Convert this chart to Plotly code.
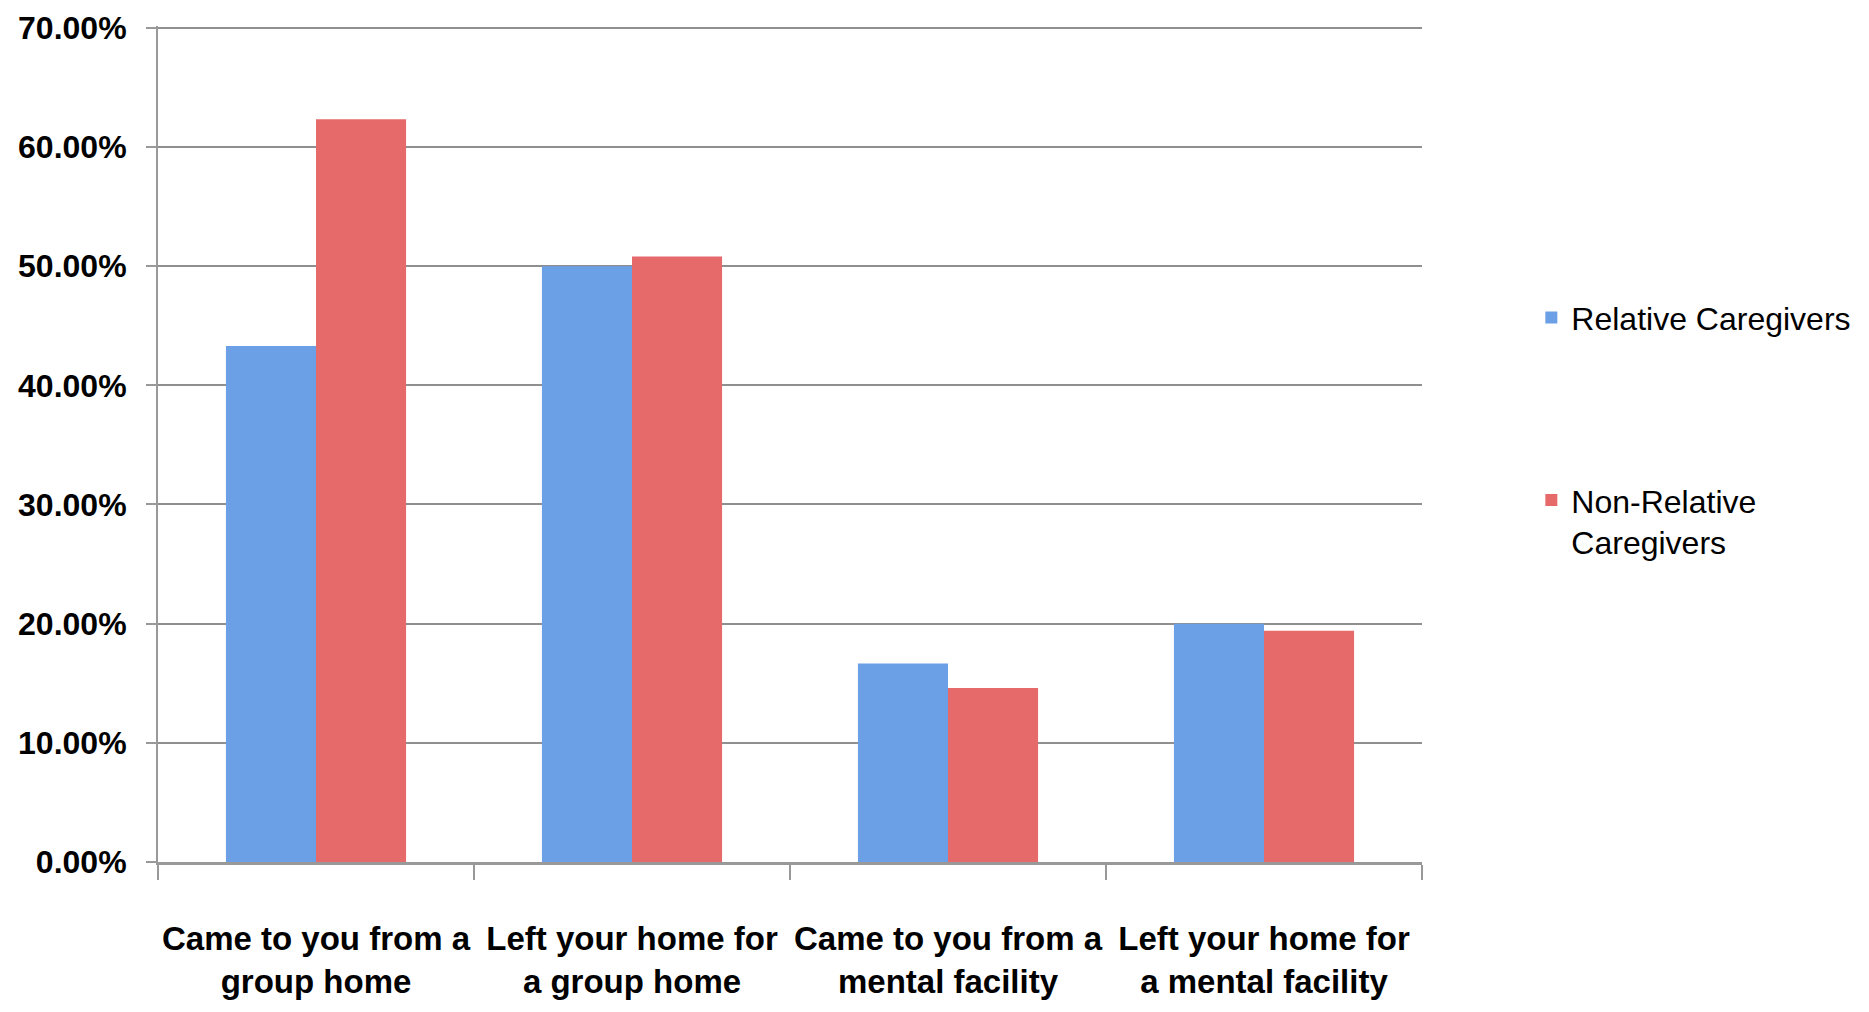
import plotly.graph_objects as go

categories = [
    "Came to you from a<br>group home",
    "Left your home for<br>a group home",
    "Came to you from a<br>mental facility",
    "Left your home for<br>a mental facility",
]
relative = [43.3, 50.0, 16.65, 20.0]
non_relative = [62.33, 50.8, 14.6, 19.4]
y_ticks = [0, 10, 20, 30, 40, 50, 60, 70]
y_ticktext = ["%.2f%%" % v for v in y_ticks]

FONT = "Liberation Sans, Arial, sans-serif"

fig = go.Figure()
fig.add_trace(go.Bar(
    x=categories, y=relative, name="Relative Caregivers",
    marker=dict(color="#6b9fe6", line=dict(width=0)),
    legendgroup="a",
))
fig.add_trace(go.Bar(
    x=categories, y=non_relative, name="Non-Relative<br>Caregivers",
    marker=dict(color="#e66a6a", line=dict(width=0)),
    legendgroup="b",
))

fig.update_layout(
    width=1869, height=1012,
    margin=dict(l=158, r=447, t=26, b=150),
    paper_bgcolor="white", plot_bgcolor="white",
    barmode="group", bargap=0.43, bargroupgap=0,
    showlegend=True,
    legend=dict(
        x=1.0865, xanchor="left", y=0.684, yanchor="top",
        font=dict(family=FONT, size=32, color="black"),
        tracegroupgap=138, valign="top",
        bgcolor="rgba(0,0,0,0)",
    ),
    xaxis=dict(
        type="category", automargin=False, tickangle=0,
        showline=True, linecolor="#999999", linewidth=3,
        ticks="outside", tickson="boundaries", ticklen=15, tickwidth=2, tickcolor="#999999",
        ticklabelstandoff=45,
        tickfont=dict(family=FONT, size=33, color="black", weight="bold"),
        showgrid=False,
    ),
    yaxis=dict(
        range=[0, 70.15], automargin=False,
        tickvals=y_ticks, ticktext=y_ticktext,
        showline=True, linecolor="#999999", linewidth=2,
        ticks="outside", ticklen=10, tickwidth=2, tickcolor="#999999",
        ticklabelstandoff=13,
        showgrid=True, gridcolor="#8f8f8f", gridwidth=2,
        zeroline=False,
        tickfont=dict(family=FONT, size=32, color="black", weight="bold"),
    ),
)

fig.write_html("out.html")
